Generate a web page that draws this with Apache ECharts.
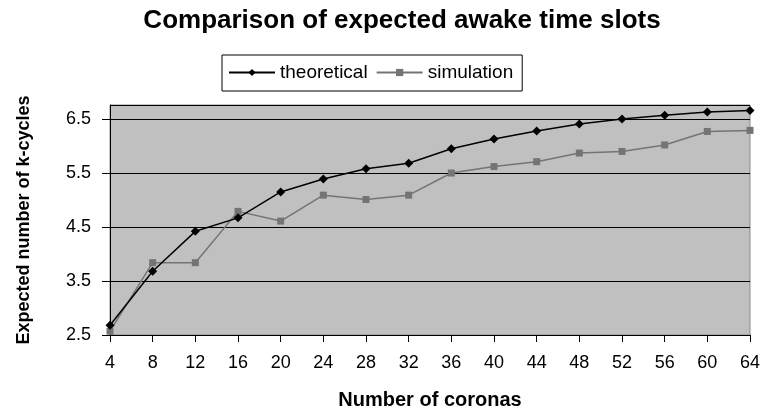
<!DOCTYPE html>
<html>
<head>
<meta charset="utf-8">
<script src="https://cdn.jsdelivr.net/npm/echarts@6/dist/echarts.min.js"></script>
<style>html,body{margin:0;padding:0;background:#fff;}#c{width:766px;height:412px;}</style>
</head>
<body>
<div id="c"></div>
<script>
const categories = ['4','8','12','16','20','24','28','32','36','40','44','48','52','56','60','64'];
const theoretical = [2.68,3.68,4.42,4.67,5.15,5.39,5.58,5.68,5.95,6.13,6.28,6.41,6.50,6.57,6.63,6.66];
const simulation = [2.57,3.84,3.84,4.79,4.61,5.09,5.01,5.09,5.50,5.62,5.71,5.87,5.90,6.02,6.27,6.29];
const yTicks = [2.5,3.5,4.5,5.5,6.5];

const FONT = 'Liberation Sans, Arial, sans-serif';
const chart = echarts.init(document.getElementById('c'), null, {renderer:'canvas'});
chart.setOption({
  backgroundColor:'#fff',
  animation:false,
  title:{
    text:'Comparison of expected awake time slots',
    left:397, textAlign:'center', top:3,
    textStyle:{fontFamily:FONT, fontWeight:'bold', fontSize:26, color:'#000'}
  },
  legend:{
    left:222, top:55,
    padding:[8,9,9,6],
    borderColor:'#000', borderWidth:1, backgroundColor:'#fff',
    itemWidth:46, itemHeight:9, itemGap:8,
    textStyle:{fontFamily:FONT, fontSize:19, color:'#000'},
    data:['theoretical','simulation']
  },
  grid:{
    left:110, right:16, top:105, bottom:77,
    outerBoundsMode:'none', containLabel:false,
    show:true, backgroundColor:'#c0c0c0', borderColor:'#8a8a8a', borderWidth:1
  },
  xAxis:{
    type:'category', data:categories, boundaryGap:false,
    name:'Number of coronas', nameLocation:'middle', nameGap:55,
    nameTextStyle:{fontFamily:FONT, fontWeight:'bold', fontSize:20, color:'#000'},
    axisLine:{lineStyle:{color:'#000', width:1}},
    axisTick:{show:true, length:7, lineStyle:{color:'#000'}},
    axisLabel:{fontFamily:FONT, fontSize:18, color:'#000', margin:19},
    splitLine:{show:false}
  },
  yAxis:{
    type:'value', min:2.5, max:6.76, interval:1,
    name:'Expected number of k-cycles', nameLocation:'middle', nameGap:77,
    nameTextStyle:{fontFamily:FONT, fontWeight:'bold', fontSize:18, color:'#000'},
    axisLine:{show:true, lineStyle:{color:'#000', width:1}},
    axisTick:{show:true, length:8, lineStyle:{color:'#000'}},
    axisLabel:{
      fontFamily:FONT, fontSize:18, color:'#000', margin:19,
      showMaxLabel:false,
      formatter:function(v){ for (const t of yTicks){ if (Math.abs(v-t)<1e-6) return t.toFixed(1);} return ''; }
    },
    splitLine:{show:true, lineStyle:{color:'#000', width:1}}
  },
  series:[
    {name:'theoretical', type:'line', data:theoretical, symbol:'diamond', symbolSize:9,
     itemStyle:{color:'#000'}, lineStyle:{color:'#000', width:1.5}, z:3},
    {name:'simulation', type:'line', data:simulation, symbol:'rect', symbolSize:7,
     itemStyle:{color:'#747474'}, lineStyle:{color:'#747474', width:1.5}, z:2}
  ]
});
</script>
</body>
</html>
